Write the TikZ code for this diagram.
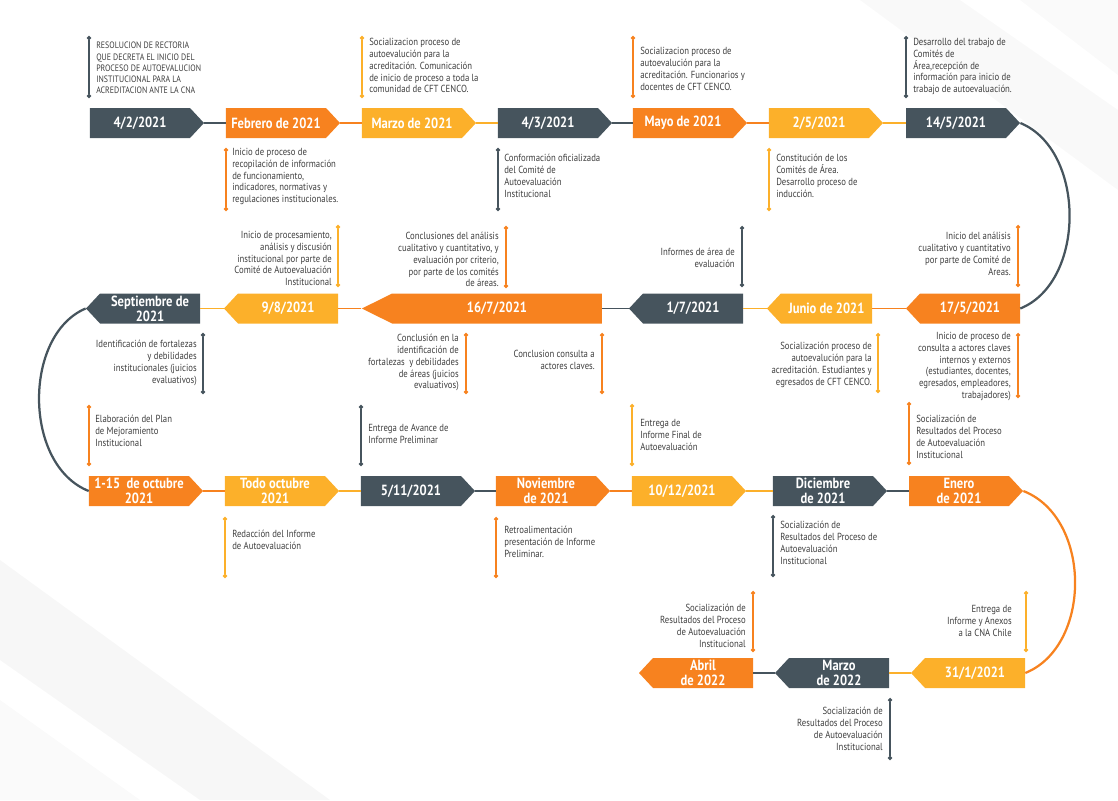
\documentclass[tikz,border=0pt]{standalone}
\usepackage{fontspec}
\setmainfont{PT Sans}[FakeStretch=0.85]
\usetikzlibrary{shapes.symbols,arrows.meta}
\definecolor{slate}{HTML}{46545D}
\definecolor{tangerine}{HTML}{F7821F}
\definecolor{amber}{HTML}{FCB02A}
\definecolor{inktext}{HTML}{3E3E3E}
\def\notefont{\fontsize{7.3}{8.4}\selectfont}
\def\capsfont{\fontsize{6.6}{8}\selectfont}
\tikzset{
	datebase/.style={shape=signal, signal from=nowhere, signal pointer angle=94, text=white, inner sep=0pt, minimum width=2.85cm, minimum height=0.75cm, align=center, font=\fontsize{10.5}{10.8}\selectfont\bfseries},
	dateR/.style={datebase, signal to=east, fill=#1},
	dateL/.style={datebase, signal to=west, fill=#1},
	link/.style={draw=#1, line width=1.2pt},
	curl/.style={draw=#1, line width=1.6pt},
	stick/.style={draw=#1, line width=0.9pt, {Circle[length=3pt]}-{Circle[length=3pt]}},
	noteL/.style={anchor=north west, align=left, inner sep=0pt, text=inktext, font=\notefont},
	noteR/.style={anchor=north east, align=right, inner sep=0pt, text=inktext, font=\notefont}
}

\begin{document}
\begin{tikzpicture}[x=0.25mm,y=-0.25mm]
	%%%%% START %%%%%
	\useasboundingbox (0,0) rectangle (1118,800);
	\fill[gray!6] (0,560) -- (330,800) -- (200,800) -- (0,660) -- cycle;
	\fill[gray!4] (0,700) -- (140,800) -- (0,800) -- cycle;
	\fill[gray!5] (860,0) -- (1118,190) -- (1118,110) -- (960,0) -- cycle;
	\fill[gray!4] (1020,0) -- (1118,75) -- (1118,0) -- cycle;
	
	% row 1
	\node[dateR=slate] (n42) at (140,123) {4/2/2021};
	\node[dateR=tangerine] (nfeb) at (276,123) {Febrero de 2021};
	\node[dateR=amber] (nmar21) at (412,123) {Marzo de 2021};
	\node[dateR=slate] (n43) at (548,123) {4/3/2021};
	\node[dateR=tangerine] (nmay) at (683,123) {Mayo de 2021};
	\node[dateR=amber] (n25) at (819,123) {2/5/2021};
	\node[dateR=slate] (n145) at (956,123) {14/5/2021};
	
	% row 2
	\node[dateL=tangerine] (n175) at (970,308.5) {17/5/2021};
	\node[dateL=amber, minimum width=2.63cm] (njun) at (826.5,308.5) {Junio de 2021};
	\node[dateL=slate] (n17) at (693,308.5) {1/7/2021};
	\node[dateL=tangerine, minimum width=6cm, signal pointer angle=53] (n167) at (497,308.5) {16/7/2021};
	\node[dateL=amber] (n98) at (288,308.5) {9/8/2021};
	\node[dateL=slate] (nsep) at (150,308.5) {Septiembre de\\2021};
	
	% row 3
	\node[dateR=tangerine] (noct) at (139,491) {1-15~~de octubre\\2021};
	\node[dateR=amber] (ntodo) at (275,491) {Todo octubre\\2021};
	\node[dateR=slate] (n511) at (411,491) {5/11/2021};
	\node[dateR=tangerine] (nnov) at (546,491) {Noviembre\\de 2021};
	\node[dateR=amber] (n1012) at (682,491) {10/12/2021};
	\node[dateR=slate] (ndic) at (823,491) {Diciembre\\de 2021};
	\node[dateR=tangerine] (nene) at (959,491) {Enero\\de 2021};
	
	% row 4
	\node[dateL=amber] (n311) at (975,673) {31/1/2021};
	\node[dateL=slate] (nmar22) at (839,673) {Marzo\\de 2022};
	\node[dateL=tangerine] (nabr) at (703,673) {Abril\\de 2022};
	
	% links
	\draw[link=slate] (n42.east) -- (nfeb.west);
	\draw[link=tangerine] (nfeb.east) -- (nmar21.west);
	\draw[link=amber] (nmar21.east) -- (n43.west);
	\draw[link=slate] (n43.east) -- (nmay.west);
	\draw[link=tangerine] (nmay.east) -- (n25.west);
	\draw[link=amber] (n25.east) -- (n145.west);
	\draw[link=tangerine] (n175.west) -- (njun.east);
	\draw[link=amber] (njun.west) -- (n17.east);
	\draw[link=slate] (n17.west) -- (n167.east);
	\draw[link=tangerine] (n167.west) -- (n98.east);
	\draw[link=amber] (n98.west) -- (nsep.east);
	\draw[link=tangerine] (noct.east) -- (ntodo.west);
	\draw[link=amber] (ntodo.east) -- (n511.west);
	\draw[link=slate] (n511.east) -- (nnov.west);
	\draw[link=tangerine] (nnov.east) -- (n1012.west);
	\draw[link=amber] (n1012.east) -- (ndic.west);
	\draw[link=slate] (ndic.east) -- (nene.west);
	\draw[link=amber] (n311.west) -- (nmar22.east);
	\draw[link=slate] (nmar22.west) -- (nabr.east);
	
	\draw[curl=slate] (n145.east) .. controls (1086,150) and (1086,282) .. (n175.east);
	\draw[curl=slate] (nsep.west) .. controls (23,335) and (23,465) .. (noct.west);
	\draw[curl=tangerine] (nene.east) .. controls (1092,518) and (1092,646) .. (n311.east);
	
	% notes above row 1
	\draw[stick=slate] (89,36) -- (89,98);
	\node[noteL, font=\capsfont] (t1) at (96,42) {RESOLUCION DE RECTORIA\\QUE DECRETA EL INICIO DEL\\PROCESO DE AUTOEVALUCION\\INSTITUCIONAL PARA LA\\ACREDITACION ANTE LA CNA};
	\draw[stick=amber] (362,36) -- (362,98);
	\node[noteL] (t2) at (369,38) {Socializacion proceso de\\autoevalución para la\\acreditación. Comunicación\\de inicio de proceso a toda la\\comunidad de CFT CENCO.};
	\draw[stick=tangerine] (633,36) -- (633,98);
	\node[noteL] (t3) at (640,47) {Socializacion proceso de\\autoevalución para la\\acreditación. Funcionarios y\\docentes de CFT CENCO.};
	\draw[stick=slate] (906,36) -- (906,98);
	\node[noteL] (t4) at (913,38) {Desarrollo del trabajo de\\Comités de\\Área,recepción de\\información para inicio de\\trabajo de autoevaluación.};
	
	% notes below row 1
	\draw[stick=tangerine] (226,148) -- (226,211);
	\node[noteL] (t5) at (232,148) {Inicio de proceso de\\recopilación de información\\de funcionamiento,\\indicadores, normativas y\\regulaciones institucionales.};
	\draw[stick=slate] (498,148) -- (498,211);
	\node[noteL] (t6) at (504,154) {Conformación oficializada\\del Comité de\\Autoevaluación\\Institucional};
	\draw[stick=amber] (769,148) -- (769,211);
	\node[noteL] (t7) at (776,154) {Constitución de los\\Comités de Área.\\Desarrollo proceso de\\inducción.};
	
	% notes above row 2
	\draw[stick=amber] (338,225) -- (338,287);
	\node[noteR] (t8) at (332,231) {Inicio de procesamiento,\\análisis y discusión\\institucional por parte de\\Comité de Autoevaluación\\Institucional};
	\draw[stick=tangerine] (506,226) -- (506,288);
	\node[noteR] (t9) at (499,232) {Conclusiones del análisis\\cualitativo y cuantitativo, y\\evaluación por criterio,\\por parte de los comités\\de áreas.};
	\draw[stick=slate] (742,226) -- (742,287);
	\node[noteR] (t10) at (735,248) {Informes de área de\\evaluación};
	\draw[stick=tangerine] (1018,225) -- (1018,287);
	\node[noteR] (t11) at (1011,232) {Inicio del análisis\\cualitativo y cuantitativo\\por parte de Comité de\\Areas.};
	
	% notes below row 2
	\draw[stick=slate] (203,333) -- (203,394);
	\node[noteR] (t12) at (197,340) {Identificación de fortalezas\\y debilidades\\institucionales (juicios\\evaluativos)};
	\draw[stick=tangerine] (466,333) -- (466,394);
	\node[noteR] (t13) at (459,334) {Conclusión en la\\identificación de\\fortalezas~ y debilidades\\de áreas (juicios\\evaluativos)};
	\draw[stick=tangerine] (602,333) -- (602,394);
	\node[noteR] (t14) at (595,350) {Conclusion consulta a\\actores claves.};
	\draw[stick=amber] (878,333) -- (878,393);
	\node[noteR] (t15) at (872,342) {Socialización proceso de\\autoevalución para la\\acreditación. Estudiantes y\\egresados de CFT CENCO.};
	\draw[stick=tangerine] (1018,333) -- (1018,398);
	\node[noteR] (t16) at (1011,332) {Inicio de proceso de\\consulta a actores claves\\internos y externos\\(estudiantes, docentes,\\egresados, empleadores,\\trabajadores)};
	
	% notes above row 3
	\draw[stick=tangerine] (89,405) -- (89,466);
	\node[noteL] (t17) at (95,415) {Elaboración del Plan\\de Mejoramiento\\Institucional};
	\draw[stick=slate] (361,405) -- (361,466);
	\node[noteL] (t18) at (368,424) {Entrega de Avance de\\Informe Preliminar};
	\draw[stick=amber] (632,404) -- (632,466);
	\node[noteL] (t19) at (640,419) {Entrega de\\Informe Final de\\Autoevaluación};
	\draw[stick=tangerine] (909,402) -- (909,465);
	\node[noteL] (t20) at (916,415) {Socialización de\\Resultados del Proceso\\de Autoevaluación\\Institucional};
	
	% notes below row 3
	\draw[stick=amber] (225,517) -- (225,578);
	\node[noteL] (t21) at (232,530) {Redacción del Informe\\de Autoevaluación};
	\draw[stick=tangerine] (496,517) -- (496,578);
	\node[noteL] (t22) at (504,526) {Retroalimentación\\presentación de Informe\\Preliminar.};
	\draw[stick=slate] (773,515) -- (773,577);
	\node[noteL] (t23) at (780,521) {Socialización de\\Resultados del Proceso de\\Autoevaluación\\Institucional};
	
	% notes row 4
	\draw[stick=tangerine] (753,591) -- (753,652);
	\node[noteR] (t24) at (746,604) {Socialización de\\Resultados del Proceso\\de Autoevaluación\\Institucional};
	\draw[stick=amber] (1026,591) -- (1026,652);
	\node[noteR] (t25) at (1012,605) {Entrega de\\Informe y Anexos\\a la CNA Chile};
	\draw[stick=slate] (890,698) -- (890,760);
	\node[noteR] (t26) at (883,707) {Socialización de\\Resultados del Proceso\\de Autoevaluación\\Institucional};
	%%%%% END %%%%%
\end{tikzpicture}
\end{document}
